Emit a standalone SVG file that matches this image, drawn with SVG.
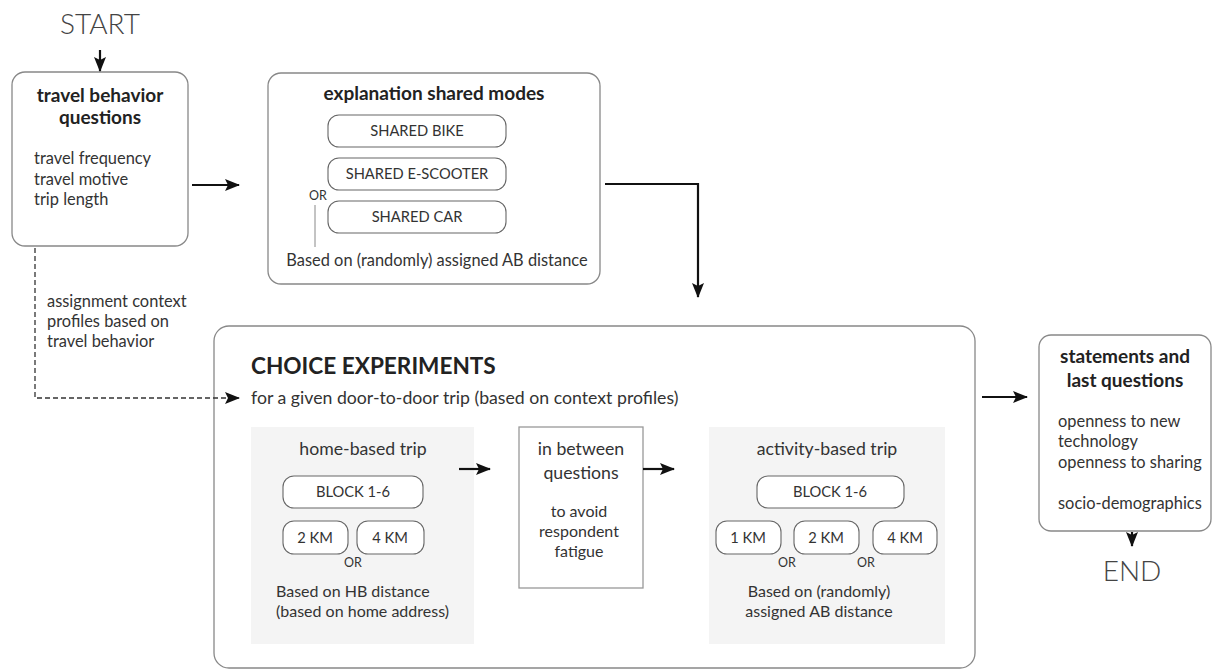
<svg xmlns="http://www.w3.org/2000/svg" width="1213" height="672" viewBox="0 0 1213 672">
<defs>
<marker id="ah" viewBox="0 0 15 12" refX="14" refY="6" markerWidth="15" markerHeight="12" markerUnits="userSpaceOnUse" orient="auto"><path d="M0,0 L15,6 L0,12 L3,6 Z" fill="#111"/></marker>
</defs>
<style>
text{font-family:Lato,"Noto Sans","Liberation Sans",sans-serif;fill:#333}
.box{fill:#fff;stroke:#888;stroke-width:1.3}
.pill{fill:#fff;stroke:#666;stroke-width:1.1}
.panel{fill:#f4f4f4;stroke:none}
.t{font-size:19px;font-weight:bold;fill:#222}
.n{font-size:16.4px}
.p{font-size:16px}
.l{font-size:17.7px}
.m{font-size:14.7px}
.or{font-size:12.5px}
.big{font-size:28px;font-weight:300;fill:#444}
.c{text-anchor:middle}
.conn{stroke:#111;stroke-width:2.2;fill:none}
.dash{stroke:#333;stroke-width:1.3;fill:none;stroke-dasharray:5,3}
</style>
<rect width="1213" height="672" fill="#fff"/>
<g id="start"><text class="big c" x="100" y="34">START</text></g>
<g id="travel-behavior">
<rect class="box" x="12" y="72" width="176" height="174" rx="13"/>
<text class="t c" x="100" y="102">travel behavior</text>
<text class="t c" x="100" y="124">questions</text>
<text class="n" x="34" y="164">travel frequency</text>
<text class="n" x="34" y="185">travel motive</text>
<text class="n" x="34" y="205">trip length</text>
</g>
<g id="shared-modes">
<rect class="box" x="268" y="73" width="332" height="211" rx="13"/>
<text class="t c" x="434" y="100">explanation shared modes</text>
<rect class="pill" x="328" y="115" width="178" height="32" rx="11"/>
<text class="m c" x="417" y="136">SHARED BIKE</text>
<rect class="pill" x="328" y="158" width="178" height="32" rx="11"/>
<text class="m c" x="417" y="179">SHARED E-SCOOTER</text>
<rect class="pill" x="328" y="201" width="178" height="32" rx="11"/>
<text class="m c" x="417" y="222">SHARED CAR</text>
<text class="or c" x="318" y="200">OR</text>
<line x1="315" y1="205" x2="315" y2="247" stroke="#888" stroke-width="1"/>
<text class="n c" x="437" y="266">Based on (randomly) assigned AB distance</text>
</g>
<g id="assignment-label">
<text class="n" x="47" y="307">assignment context</text>
<text class="n" x="47" y="327">profiles based on</text>
<text class="n" x="47" y="347">travel behavior</text>
</g>
<g id="choice-experiments">
<rect class="box" x="214" y="326" width="761" height="342" rx="15"/>
<text x="251" y="374" style="font-size:22.6px;font-weight:bold;fill:#222">CHOICE EXPERIMENTS</text>
<text class="l" x="251" y="404">for a given door-to-door trip (based on context profiles)</text>
</g>
<g id="home-based">
<rect class="panel" x="251" y="427" width="223" height="217"/>
<text class="l c" x="363" y="455">home-based trip</text>
<rect class="pill" x="283" y="476" width="140" height="32" rx="11"/>
<text class="m c" x="353" y="497">BLOCK 1-6</text>
<rect class="pill" x="283" y="521" width="65" height="33" rx="11"/>
<text class="m c" x="315" y="543">2 KM</text>
<rect class="pill" x="357" y="521" width="67" height="33" rx="11"/>
<text class="m c" x="390" y="543">4 KM</text>
<text class="or c" x="353" y="567">OR</text>
<text class="p" x="276" y="597">Based on HB distance</text>
<text class="p" x="276" y="617">(based on home address)</text>
</g>
<g id="in-between">
<rect x="519" y="427" width="124" height="161" fill="#fff" stroke="#999" stroke-width="1.3"/>
<text class="l c" x="581" y="455">in between</text>
<text class="l c" x="581" y="479">questions</text>
<text class="p c" x="579" y="517">to avoid</text>
<text class="p c" x="579" y="537">respondent</text>
<text class="p c" x="579" y="557">fatigue</text>
</g>
<g id="activity-based">
<rect class="panel" x="709" y="427" width="236" height="217"/>
<text class="l c" x="827" y="455">activity-based trip</text>
<rect class="pill" x="757" y="476" width="147" height="32" rx="11"/>
<text class="m c" x="830" y="497">BLOCK 1-6</text>
<rect class="pill" x="716" y="521" width="65" height="33" rx="11"/>
<text class="m c" x="748" y="543">1 KM</text>
<rect class="pill" x="794" y="521" width="65" height="33" rx="11"/>
<text class="m c" x="826" y="543">2 KM</text>
<rect class="pill" x="873" y="521" width="64" height="33" rx="11"/>
<text class="m c" x="905" y="543">4 KM</text>
<text class="or c" x="787" y="567">OR</text>
<text class="or c" x="866" y="567">OR</text>
<text class="p c" x="819" y="597">Based on (randomly)</text>
<text class="p c" x="819" y="617">assigned AB distance</text>
</g>
<g id="statements">
<rect class="box" x="1039" y="335" width="172" height="196" rx="12"/>
<text class="t c" x="1125" y="363">statements and</text>
<text class="t c" x="1125" y="387">last questions</text>
<text class="n" x="1058" y="427">openness to new</text>
<text class="n" x="1058" y="447">technology</text>
<text class="n" x="1058" y="468">openness to sharing</text>
<text class="n" x="1058" y="509">socio-demographics</text>
</g>
<g id="end"><text class="big c" x="1132" y="581">END</text></g>
<g id="connectors">
<path class="conn" d="M100,50 V71" marker-end="url(#ah)"/>
<path class="conn" d="M192,185 H239" marker-end="url(#ah)"/>
<path class="conn" d="M605,184 H698 V297" marker-end="url(#ah)"/>
<path class="dash" d="M35,248 V398 H239" marker-end="url(#ah)"/>
<path class="conn" d="M459,469 H490" marker-end="url(#ah)"/>
<path class="conn" d="M643,469 H674" marker-end="url(#ah)"/>
<path class="conn" d="M982,397 H1027" marker-end="url(#ah)"/>
<path class="conn" d="M1132,532 V546" marker-end="url(#ah)"/>
</g>
</svg>
